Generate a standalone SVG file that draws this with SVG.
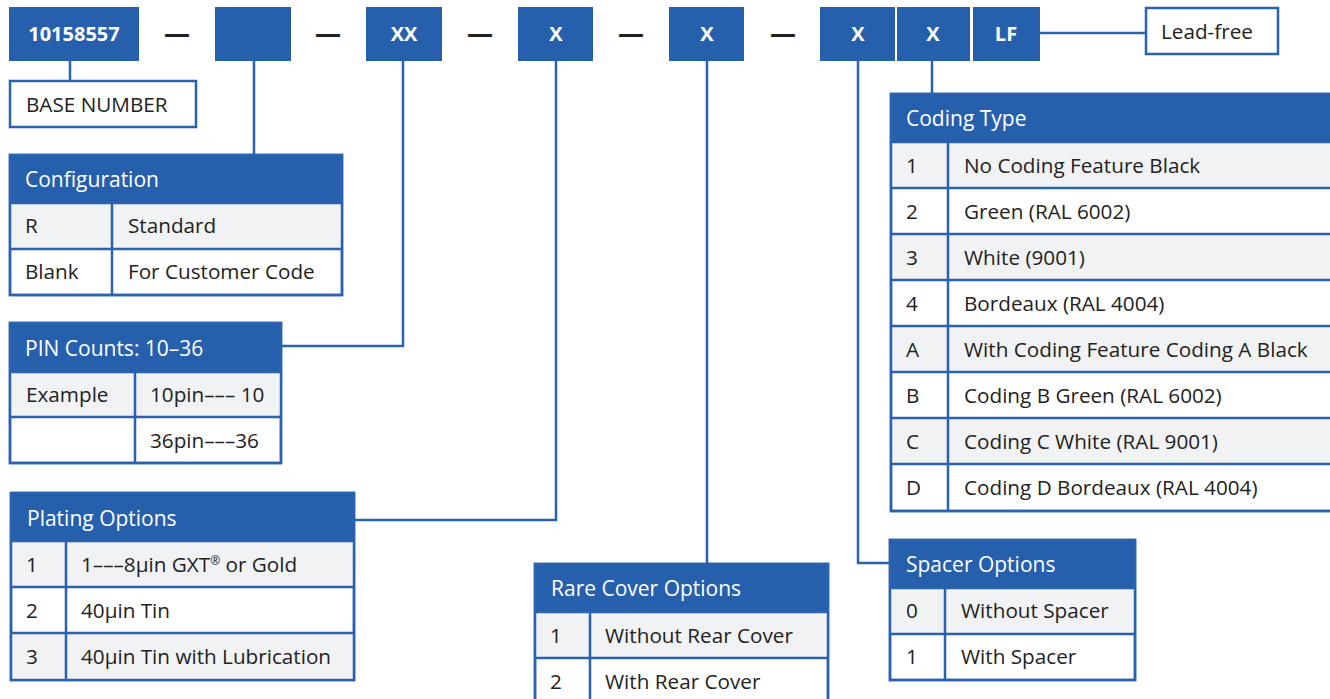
<svg xmlns="http://www.w3.org/2000/svg" width="1330" height="699" viewBox="0 0 1330 699">
<style>
text{font-family:"Open Sans","Noto Sans","Liberation Sans",sans-serif;font-size:20.7px;fill:#222}
.code{fill:#2660ad}
.ct{fill:#fff;font-weight:bold;font-size:20px;text-anchor:middle}
.dash{font-size:26px;text-anchor:middle;font-weight:bold}
.frame{fill:#fff;stroke:#2a62b0;stroke-width:2.5}
.hdr{fill:#2660ad}
.ht{fill:#fff;font-size:21px}
.g{fill:#f1f2f4}
.div{stroke:#2a62b0;stroke-width:2.5;fill:none}
.conn{stroke:#2a62b0;stroke-width:2.5;fill:none}
</style>
<rect width="1330" height="699" fill="#fff"/>
<g id="code-boxes">
<g id="box-base"><rect class="code" x="9" y="7" width="130" height="54"/><text class="ct" x="74" y="41">10158557</text></g>
<text class="dash" x="177" y="43">—</text>
<g id="box-config"><rect class="code" x="215" y="7" width="76" height="54"/></g>
<text class="dash" x="328" y="43">—</text>
<g id="box-pin"><rect class="code" x="366" y="7" width="76" height="54"/><text class="ct" x="404" y="41">XX</text></g>
<text class="dash" x="480" y="43">—</text>
<g id="box-plating"><rect class="code" x="518" y="7" width="75" height="54"/><text class="ct" x="556" y="41">X</text></g>
<text class="dash" x="631" y="43">—</text>
<g id="box-cover"><rect class="code" x="669" y="7" width="75" height="54"/><text class="ct" x="707" y="41">X</text></g>
<text class="dash" x="783" y="43">—</text>
<g id="box-spacer"><rect class="code" x="820" y="7" width="75" height="54"/><text class="ct" x="858" y="41">X</text></g>
<g id="box-coding"><rect class="code" x="897" y="7" width="73" height="54"/><text class="ct" x="933" y="41">X</text></g>
<g id="box-lf"><rect class="code" x="973" y="7" width="67" height="54"/><text class="ct" x="1006" y="41">LF</text></g>
</g>
<g id="connectors">
<path class="conn" d="M70 61V80"/>
<path class="conn" d="M254 61V155"/>
<path class="conn" d="M403 61V346H281"/>
<path class="conn" d="M556 61V520H354"/>
<path class="conn" d="M707 61V564"/>
<path class="conn" d="M858 61V563H890"/>
<path class="conn" d="M932 61V94"/>
<path class="conn" d="M1040 33H1146"/>
</g>
<g id="lead-free"><rect class="frame" x="1146" y="8" width="132" height="46"/><text x="1161" y="39">Lead-free</text></g>
<g id="base-number"><rect class="frame" x="10" y="81" width="186" height="46"/><text x="26" y="112">BASE NUMBER</text></g>
<g id="configuration">
<rect class="frame" x="10" y="155" width="332" height="140"/>
<rect class="hdr" x="10" y="155" width="332" height="48"/>
<rect class="g" x="11" y="203" width="330" height="46"/>
<path class="div" d="M10 203H342M10 249H342M112 203V295"/>
<rect class="frame" x="10" y="155" width="332" height="140" style="fill:none"/>
<text class="ht" x="25" y="187">Configuration</text>
<text x="25" y="233">R</text><text x="128" y="233">Standard</text>
<text x="25" y="279">Blank</text><text x="128" y="279">For Customer Code</text>
</g>
<g id="pin-counts">
<rect class="frame" x="10" y="323" width="271" height="140"/>
<rect class="hdr" x="10" y="323" width="271" height="49"/>
<rect class="g" x="11" y="372" width="269" height="45"/>
<path class="div" d="M10 372H281M10 417H281M135 372V463"/>
<rect class="frame" x="10" y="323" width="271" height="140" style="fill:none"/>
<text class="ht" x="25" y="356">PIN Counts: 10–36</text>
<text x="26" y="402">Example</text><text x="150" y="402">10pin––– 10</text>
<text x="150" y="448">36pin–––36</text>
</g>
<g id="plating">
<rect class="frame" x="11" y="493" width="343" height="187"/>
<rect class="hdr" x="11" y="493" width="343" height="48"/>
<rect class="g" x="12" y="541" width="341" height="46"/>
<rect class="g" x="12" y="633" width="341" height="46"/>
<path class="div" d="M11 541H354M11 587H354M11 633H354M66 541V680"/>
<rect class="frame" x="11" y="493" width="343" height="187" style="fill:none"/>
<text class="ht" x="27" y="526">Plating Options</text>
<text x="26" y="572">1</text><text x="81" y="572">1–––8µin GXT<tspan font-size="12" dy="-7">®</tspan><tspan dy="7"> or Gold</tspan></text>
<text x="26" y="618">2</text><text x="81" y="618">40µin Tin</text>
<text x="26" y="664">3</text><text x="81" y="664">40µin Tin with Lubrication</text>
</g>
<g id="rare-cover">
<rect class="frame" x="535" y="564" width="293" height="142"/>
<rect class="hdr" x="535" y="564" width="293" height="48"/>
<rect class="g" x="536" y="612" width="291" height="46"/>
<path class="div" d="M535 612H828M535 658H828M590 612V706"/>
<rect class="frame" x="535" y="564" width="293" height="142" style="fill:none"/>
<text class="ht" x="551" y="596">Rare Cover Options</text>
<text x="550" y="643">1</text><text x="605" y="643">Without Rear Cover</text>
<text x="550" y="689">2</text><text x="605" y="689">With Rear Cover</text>
</g>
<g id="spacer">
<rect class="frame" x="890" y="540" width="245" height="140"/>
<rect class="hdr" x="890" y="540" width="245" height="48"/>
<rect class="g" x="891" y="588" width="243" height="46"/>
<path class="div" d="M890 588H1135M890 634H1135M945 588V680"/>
<rect class="frame" x="890" y="540" width="245" height="140" style="fill:none"/>
<text class="ht" x="906" y="572">Spacer Options</text>
<text x="906" y="618">0</text><text x="961" y="618">Without Spacer</text>
<text x="906" y="664">1</text><text x="961" y="664">With Spacer</text>
</g>
<g id="coding-type">
<rect class="frame" x="891" y="94" width="460" height="417"/>
<rect class="hdr" x="891" y="94" width="460" height="48"/>
<rect class="g" x="892" y="142" width="460" height="46"/>
<rect class="g" x="892" y="234" width="460" height="46"/>
<rect class="g" x="892" y="326" width="460" height="46"/>
<rect class="g" x="892" y="418" width="460" height="46"/>
<path class="div" d="M891 142H1340M891 188H1340M891 234H1340M891 280H1340M891 326H1340M891 372H1340M891 418H1340M891 464H1340M948 142V511"/>
<rect class="frame" x="891" y="94" width="460" height="417" style="fill:none"/>
<text class="ht" x="906" y="126">Coding Type</text>
<text x="906" y="173">1</text><text x="964" y="173">No Coding Feature Black</text>
<text x="906" y="219">2</text><text x="964" y="219">Green (RAL 6002)</text>
<text x="906" y="265">3</text><text x="964" y="265">White (9001)</text>
<text x="906" y="311">4</text><text x="964" y="311">Bordeaux (RAL 4004)</text>
<text x="906" y="357">A</text><text x="964" y="357">With Coding Feature Coding A Black</text>
<text x="906" y="403">B</text><text x="964" y="403">Coding B Green (RAL 6002)</text>
<text x="906" y="449">C</text><text x="964" y="449">Coding C White (RAL 9001)</text>
<text x="906" y="495">D</text><text x="964" y="495">Coding D Bordeaux (RAL 4004)</text>
</g>
</svg>
